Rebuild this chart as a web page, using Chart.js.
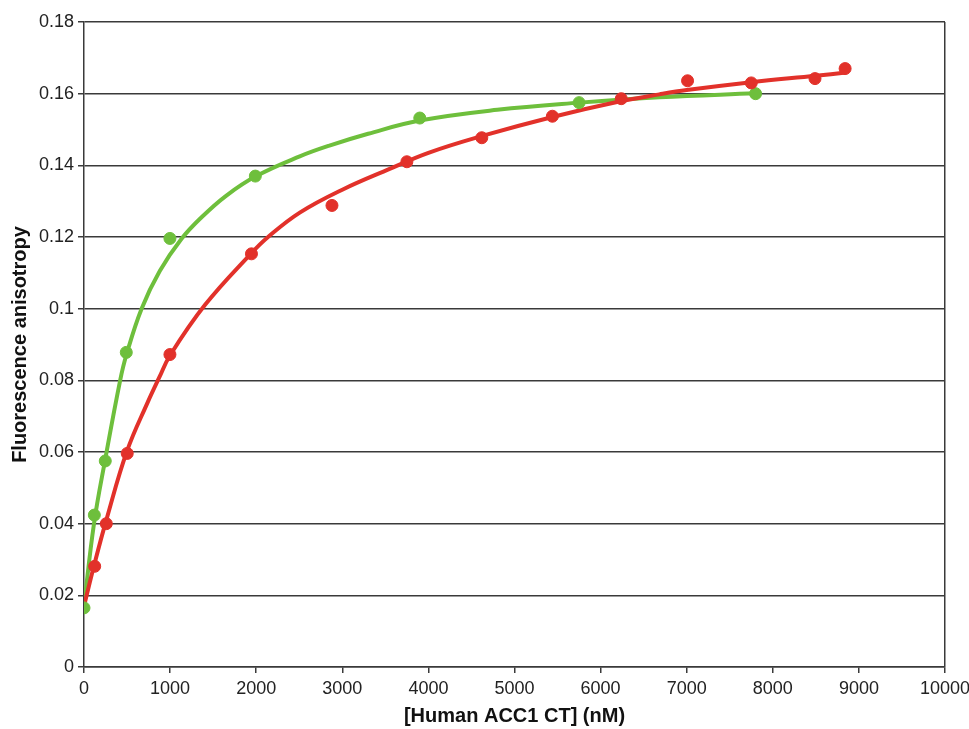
<!DOCTYPE html>
<html>
<head>
<meta charset="utf-8">
<script src="https://cdn.jsdelivr.net/npm/chart.js@4/dist/chart.umd.min.js"></script>
<style>
    html, body { margin: 0; padding: 0; background: #fff; }
    #wrap { width: 969px; height: 729px; }
</style>
</head>
<body>
<div id="wrap"><canvas id="fa"></canvas></div>
<script>
// measured points
const greenX = [0, 120, 247, 491, 998, 1990, 3900, 5750, 7800];
const greenY = [0.0165, 0.0424, 0.0575, 0.0878, 0.1196, 0.137, 0.1532, 0.1575, 0.1600];
const redX = [124, 259, 502, 998, 1945, 2880, 3750, 4620, 5440, 6240, 7010, 7750, 8490, 8840];
const redY = [0.0281, 0.0400, 0.0596, 0.0872, 0.1153, 0.1288, 0.1410, 0.1477, 0.1537, 0.1586, 0.1636, 0.1630, 0.1642, 0.1670];

// fitted curves
const greenFitX = [0, 116, 247, 420, 491, 669, 880, 1133, 1365, 1650, 2000, 2506, 2850, 3300, 3898, 4800, 5754, 6682, 7800];
const greenFitY = [0.017, 0.040, 0.058, 0.080, 0.087, 0.100, 0.1105, 0.1195, 0.1255, 0.1315, 0.137, 0.1425, 0.1455, 0.1488, 0.1525, 0.1555, 0.1575, 0.1590, 0.1601];
const redFitX = [0, 124, 259, 500, 742, 874, 1000, 1404, 1945, 2138, 2506, 3000, 3550, 4000, 4594, 5441, 6218, 6682, 7000, 7750, 8500, 8850];
const redFitY = [0.017, 0.029, 0.041, 0.0603, 0.074, 0.0808, 0.087, 0.101, 0.1155, 0.120, 0.1268, 0.1332, 0.139, 0.1435, 0.148, 0.1535, 0.1578, 0.1598, 0.161, 0.1632, 0.165, 0.1659];

const xTicks = [0, 1000, 2000, 3000, 4000, 5000, 6000, 7000, 8000, 9000, 10000];
const yTicks = [0, 0.02, 0.04, 0.06, 0.08, 0.1, 0.12, 0.14, 0.16, 0.18];

const green = '#6ebf3c';
const red = '#e2312a';
const axisDark = '#3a3a3a';

const pts = (xs, ys) => xs.map((x, i) => ({ x, y: ys[i] }));

new Chart(document.getElementById('fa'), {
    type: 'scatter',
    data: {
        datasets: [
            {
                label: 'green pts',
                data: pts(greenX, greenY),
                backgroundColor: green,
                borderColor: green,
                pointRadius: 6,
                order: 1,
            },
            {
                label: 'red pts',
                data: pts(redX, redY),
                backgroundColor: red,
                borderColor: red,
                pointRadius: 6,
                order: 0,
            },
            {
                label: 'green fit',
                data: pts(greenFitX, greenFitY),
                showLine: true,
                borderColor: green,
                borderWidth: 4,
                pointRadius: 0,
                tension: 0.4,
                order: 3,
            },
            {
                label: 'red fit',
                data: pts(redFitX, redFitY),
                showLine: true,
                borderColor: red,
                borderWidth: 4,
                pointRadius: 0,
                tension: 0.4,
                order: 2,
            },
        ],
    },
    options: {
        responsive: true,
        maintainAspectRatio: false,
        animation: false,
        layout: { padding: { left: 0, right: 24, top: 22, bottom: 0 } },
        plugins: { legend: { display: false }, tooltip: { enabled: false } },
        scales: {
            x: {
                type: 'linear',
                min: 0,
                max: 10000,
                afterBuildTicks: (s) => { s.ticks = xTicks.map(v => ({ value: v })); },
                afterFit: (s) => {
                    s.height = 62;
                    s.paddingLeft = 0;
                    s.paddingRight = 0;
                },
                ticks: {
                    color: '#222',
                    font: { family: 'Liberation Sans', size: 18 },
                    padding: 5,
                    maxRotation: 0,
                    callback: (v) => String(v),
                },
                grid: {
                    color: (c) => (c.tick && c.tick.value === 10000 ? axisDark : 'transparent'),
                    tickColor: axisDark,
                    lineWidth: 1.5,
                    tickLength: 6,
                },
                border: { color: axisDark, width: 1.5 },
                title: {
                    display: true,
                    text: '[Human ACC1 CT] (nM)',
                    color: '#111',
                    font: { family: 'Liberation Sans', size: 20, weight: 'bold' },
                    padding: { top: 0, bottom: 1 },
                },
            },
            y: {
                min: 0,
                max: 0.18,
                afterBuildTicks: (s) => { s.ticks = yTicks.map(v => ({ value: v })); },
                afterFit: (s) => {
                    s.width = 84;
                    s.paddingTop = 0;
                    s.paddingBottom = 0;
                },
                ticks: {
                    color: '#222',
                    font: { family: 'Liberation Sans', size: 18 },
                    padding: 4,
                    callback: (v) => String(parseFloat(v.toFixed(2))),
                },
                grid: {
                    color: axisDark,
                    tickColor: axisDark,
                    lineWidth: 1.5,
                    tickLength: 6,
                },
                border: { color: axisDark, width: 1.5 },
                title: {
                    display: true,
                    text: 'Fluorescence anisotropy',
                    color: '#111',
                    font: { family: 'Liberation Sans', size: 20, weight: 'bold' },
                    padding: { top: 8, bottom: 0 },
                },
            },
        },
    },
});
</script>
</body>
</html>
